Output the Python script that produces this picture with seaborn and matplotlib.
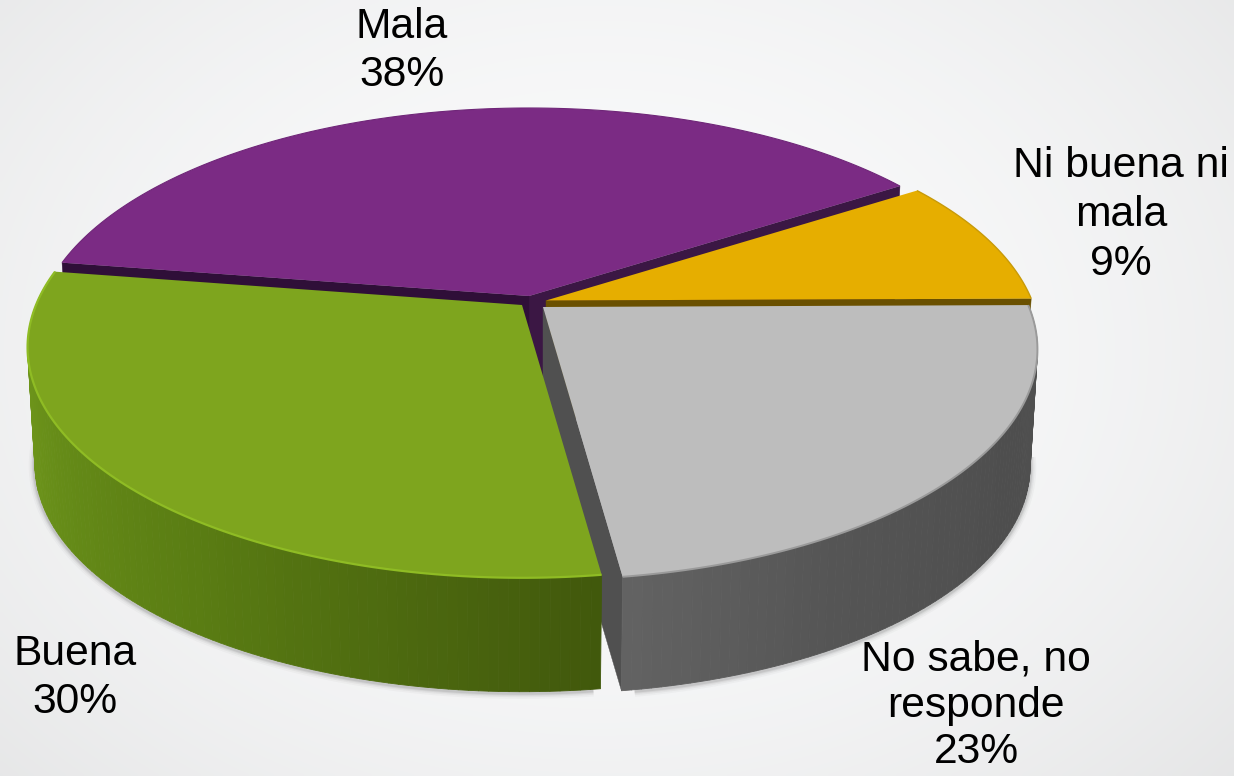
import numpy as np
import matplotlib
matplotlib.use("Agg")
import matplotlib.pyplot as plt
import matplotlib.transforms as mtrans
from matplotlib.collections import PolyCollection
from matplotlib.colors import to_rgb
import seaborn as sns

# ---------- data ----------
categories = ["Ni buena ni\nmala", "Mala", "Buena", "No sabe, no\nresponde"]
values = [9.0, 38.4, 29.6, 23.0]
top_colors = ["#e6ae00", "#7b2b84", "#7ea51e", "#bdbdbd"]

# ---------- layout ----------
W, H = 1234, 776
RX, RY, K = 486.0, 222.6, 0.184       # ellipse radii and perspective strength
SHRINK, DEPTH = 0.015, 118.0          # base of the extruded pie
START = 0.5
apex = [(546, 300.5), (529, 296), (522, 305), (543, 307)]
label_pos = [(1121, 215), (402, 51), (75, 678), (976, 706)]
label_spacing = [1.28, 1.28, 1.28, 1.2]
wall_stops = {
    2: ([170, 200, 235, 278], ["#769e1d", "#6b921a", "#5a7d13", "#41580c"]),
    3: ([277, 300, 330, 361], ["#636363", "#555555", "#4e4e4e", "#505050"]),
}


def project(u, v, z, c):
    w = 1 + K * np.asarray(v)
    s = 1 - SHRINK * z
    return c[0] + s * RX * np.asarray(u) / w, c[1] - s * RY * np.asarray(v) / w + DEPTH * z


class Persp(mtrans.Transform):
    input_dims = output_dims = 2
    is_affine = False
    has_inverse = False

    def __init__(self, c, z=0.0):
        super().__init__()
        self.c, self.z = c, z

    def transform_non_affine(self, values):
        values = np.asarray(values, dtype=float)
        x, y = project(values[:, 0], values[:, 1], self.z, self.c)
        return np.column_stack([x, y])


sns.set_theme(style="white")
plt.rcParams["font.family"] = ["Liberation Sans", "DejaVu Sans"]
fig = plt.figure(figsize=(W / 100, H / 100), dpi=100)
ax = fig.add_axes([0, 0, 1, 1])

wedges, _ = ax.pie(values, startangle=START, colors=top_colors, counterclock=True,
                   normalize=True, wedgeprops=dict(linewidth=0))
ax.set_aspect("auto")
ax.set_xlim(0, W)
ax.set_ylim(H, 0)
ax.set_xticks([])
ax.set_yticks([])
ax.set_axis_off()

# background
yy, xx = np.mgrid[0:H:200j, 0:W:300j]
d = np.hypot((xx - 600) / 800, (yy - 350) / 600)
bg = np.clip(0.985 - 0.07 * d ** 2, 0, 1)
img = np.dstack([bg * 0.995, bg * 0.997, bg * 1.0])
ax.imshow(img, extent=(0, W, H, 0), aspect="auto", zorder=0, interpolation="bilinear")


def arc(t0, t1, n=120):
    t = np.radians(np.linspace(t0, t1, n))
    return np.cos(t), np.sin(t)


def wall(i, t0, t1, stops, zorder):
    cx = apex[i]
    ts = np.linspace(t0, t1, int(abs(t1 - t0)) + 2)
    rgb = np.array([to_rgb(s) for s in stops[1]])
    polys, cols = [], []
    for a, b in zip(ts[:-1], ts[1:]):
        u = np.cos(np.radians([a, b]))
        v = np.sin(np.radians([a, b]))
        x0, y0 = project(u, v, 0, cx)
        x1, y1 = project(u, v, 1, cx)
        polys.append([(x0[0], y0[0]), (x0[1], y0[1]), (x1[1], y1[1]), (x1[0], y1[0])])
        m = (a + b) / 2
        cols.append([np.interp(m, stops[0], rgb[:, k]) for k in range(3)])
    ax.add_collection(PolyCollection(polys, facecolors=cols, edgecolors=cols, linewidths=0.6, zorder=zorder))


def side(i, t, color, zorder):
    cx = apex[i]
    u, v = np.cos(np.radians(t)), np.sin(np.radians(t))
    a = project(0.0, 0.0, 0, cx)
    b = project(u, v, 0, cx)
    c = project(u, v, 1, cx)
    d_ = project(0.0, 0.0, 1, cx)
    ax.fill([float(p[0]) for p in (a, b, c, d_)], [float(p[1]) for p in (a, b, c, d_)],
            color=color, lw=0.3, zorder=zorder)


# tight soft shadow under the pie
for lw, al in zip([9, 6.5, 4.5, 3], [0.03, 0.05, 0.07, 0.10]):
    for i, (t0, t1) in zip([2, 3], [(180, 277), (279, 352)]):
        x, y = arc(t0, t1)
        ax.plot(x, y, color="#333333", lw=lw, alpha=al, solid_capstyle="butt",
                transform=Persp((apex[i][0], apex[i][1] + 1), 1.0) + ax.transData, zorder=1)

angles = [(w.theta1, w.theta2) for w in wedges]

# back to front: purple, yellow, grey, green
side(1, angles[1][0], "#3b1744", 2)
side(1, angles[1][1], "#2f0f38", 2.1)
side(0, angles[0][0], "#6a5000", 3.5)
side(3, angles[3][0], "#505050", 5)
wall(3, angles[3][0], angles[3][1], wall_stops[3], 5.1)
wall(2, angles[2][0], angles[2][1], wall_stops[2], 7)

zs = {0: 4, 1: 3, 2: 8, 3: 6}
for i, w in enumerate(wedges):
    w.set_transform(Persp(apex[i]) + ax.transData)
    w.set_zorder(zs[i])
    w.set_clip_on(False)

# bevel rims on the top faces
rims = [(2, "#8fbc24", 1.6, 8.5), (3, "#9a9a9a", 1.4, 6.5), (0, "#c89a08", 1.0, 4.5), (1, "#6f2678", 0.8, 3.5)]
for i, col, lw, zo in rims:
    x, y = arc(*angles[i])
    ax.plot(x, y, color=col, lw=lw, transform=Persp(apex[i]) + ax.transData, zorder=zo,
            solid_capstyle="butt")

for name, val, (x, y), sp in zip(categories, values, label_pos, label_spacing):
    ax.text(x, y, f"{name}\n{round(val)}%", ha="center", va="center", fontsize=30.7,
            color="black", zorder=10, linespacing=sp)

ax.set_xlim(0, W)
ax.set_ylim(H, 0)
fig.savefig("out.png", dpi=100)
